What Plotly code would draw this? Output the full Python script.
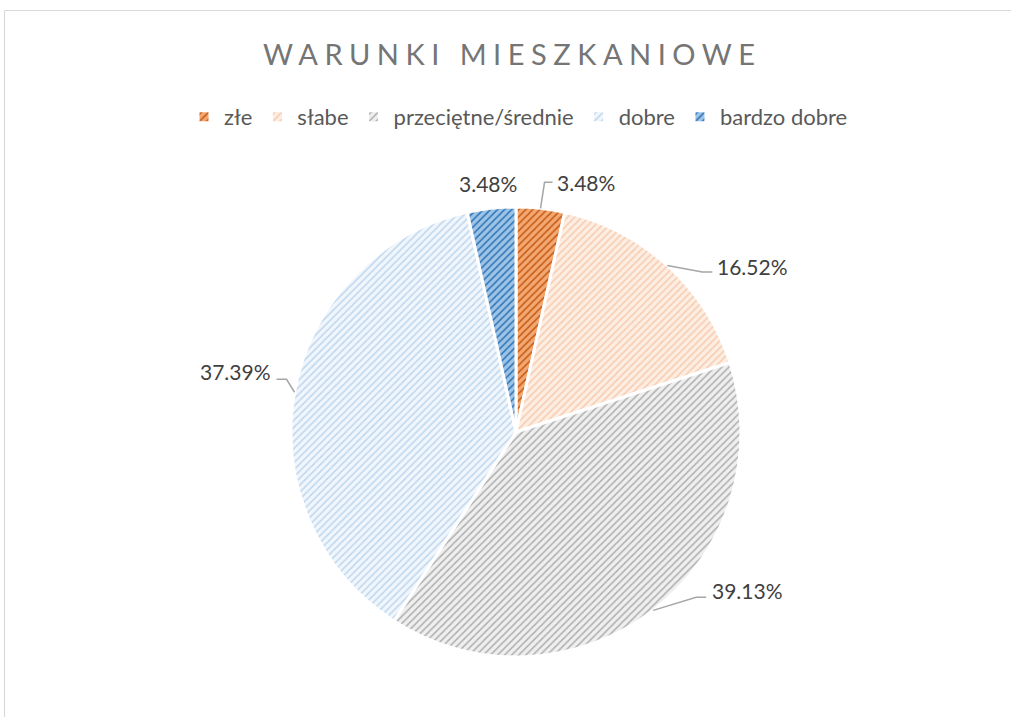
import math
import plotly.graph_objects as go

# ---- data ----
categories = ["złe", "słabe", "przeciętne/średnie", "dobre", "bardzo dobre"]
counts = [4, 19, 45, 43, 4]
title_text = "WARUNKI MIESZKANIOWE"

# ---- style ----
W, H = 1011, 717
CX, CY, R = 516, 432, 225  # pie centre/radius in px
bg_colors = ["#F3A873", "#FDEEE4", "#EFEFEF", "#F1F6FC", "#9DC3E6"]
fg_colors = ["#C55A11", "#F8CBAD", "#AFAFAF", "#BDD7EE", "#2E75B6"]

label_style = [
    dict(dx=14, dy=-26, xanchor="left", leader=[(4, -26), (12, -26)]),
    dict(dx=48, dy=1, xanchor="left", leader=[(35, 6.5), (45, 6.5)]),
    dict(dx=57, dy=-20, xanchor="left", leader=[(43, -13), (53, -13)]),
    dict(dx=-22, dy=-21, xanchor="right", leader=[(-8, -13), (-18, -13)]),
    dict(dx=-3, dy=-25, xanchor="center", leader=None),
]


def px2paper(x, y):
    return x / W, 1 - y / H


fig = go.Figure()
fig.add_trace(go.Pie(
    labels=categories,
    values=counts,
    sort=False,
    direction="clockwise",
    rotation=0,
    textinfo="none",
    hoverinfo="label+percent",
    marker=dict(
        colors=bg_colors,
        line=dict(color="white", width=3),
        pattern=dict(shape="/", fgcolor=fg_colors, bgcolor=bg_colors,
                     size=5, solidity=0.3, fillmode="replace"),
    ),
    domain=dict(x=[(CX - R) / W, (CX + R) / W],
                y=[1 - (CY + R) / H, 1 - (CY - R) / H]),
))

total = sum(counts)
cum = 0
annotations = []
shapes = []
for v, st in zip(counts, label_style):
    mid = (cum + v / 2) / total
    cum += v
    ang = 2 * math.pi * mid
    ax, ay = CX + R * math.sin(ang), CY - R * math.cos(ang)
    tx, ty = ax + st["dx"], ay + st["dy"]
    px, py = px2paper(tx, ty)
    annotations.append(dict(
        x=px, y=py, xref="paper", yref="paper", showarrow=False,
        text=f"{100 * v / total:.2f}%", xanchor=st["xanchor"], yanchor="middle",
        font=dict(family="Lato", size=21, color="#404040"),
    ))
    if st["leader"]:
        pts = [(ax, ay)] + [(ax + dx, ay + dy) for dx, dy in st["leader"]]
        path = ""
        for i, (x, y) in enumerate(pts):
            qx, qy = px2paper(x, y)
            path += ("M" if i == 0 else "L") + f"{qx},{qy} "
        shapes.append(dict(type="path", path=path.strip(), xref="paper", yref="paper",
                           line=dict(color="#A6A6A6", width=1.5)))

# outer chart frame (top and left edges visible)
fx, fy = px2paper(4.5, 10.5)
shapes.append(dict(type="line", xref="paper", yref="paper", x0=fx, x1=1.0, y0=fy, y1=fy,
                   line=dict(color="#D9D9D9", width=1.2), layer="below"))
shapes.append(dict(type="line", xref="paper", yref="paper", x0=fx, x1=fx, y0=fy, y1=0.0,
                   line=dict(color="#D9D9D9", width=1.2), layer="below"))

annotations.append(dict(
    x=0.5 + 6 / W, y=1 - 53 / H, xref="paper", yref="paper", showarrow=False,
    text=f'<span style="letter-spacing:6.5px">{title_text}</span>',
    xanchor="center", yanchor="middle",
    font=dict(family="Lato", size=29, color="#757575"),
))

fig.update_layout(
    width=W, height=H,
    margin=dict(l=0, r=0, t=0, b=0),
    paper_bgcolor="white",
    plot_bgcolor="white",
    showlegend=True,
    legend=dict(orientation="h", x=0.5 + 13 / W, xanchor="center",
                y=1 - 117 / H, yanchor="middle",
                font=dict(family="Lato", size=22, color="#595959"),
                itemwidth=30, traceorder="normal"),
    annotations=annotations,
    shapes=shapes,
)

fig.write_html(
    "out.html",
    config={"displayModeBar": False},
    post_script="document.body.style.margin='0';document.body.style.overflow='hidden';",
)
